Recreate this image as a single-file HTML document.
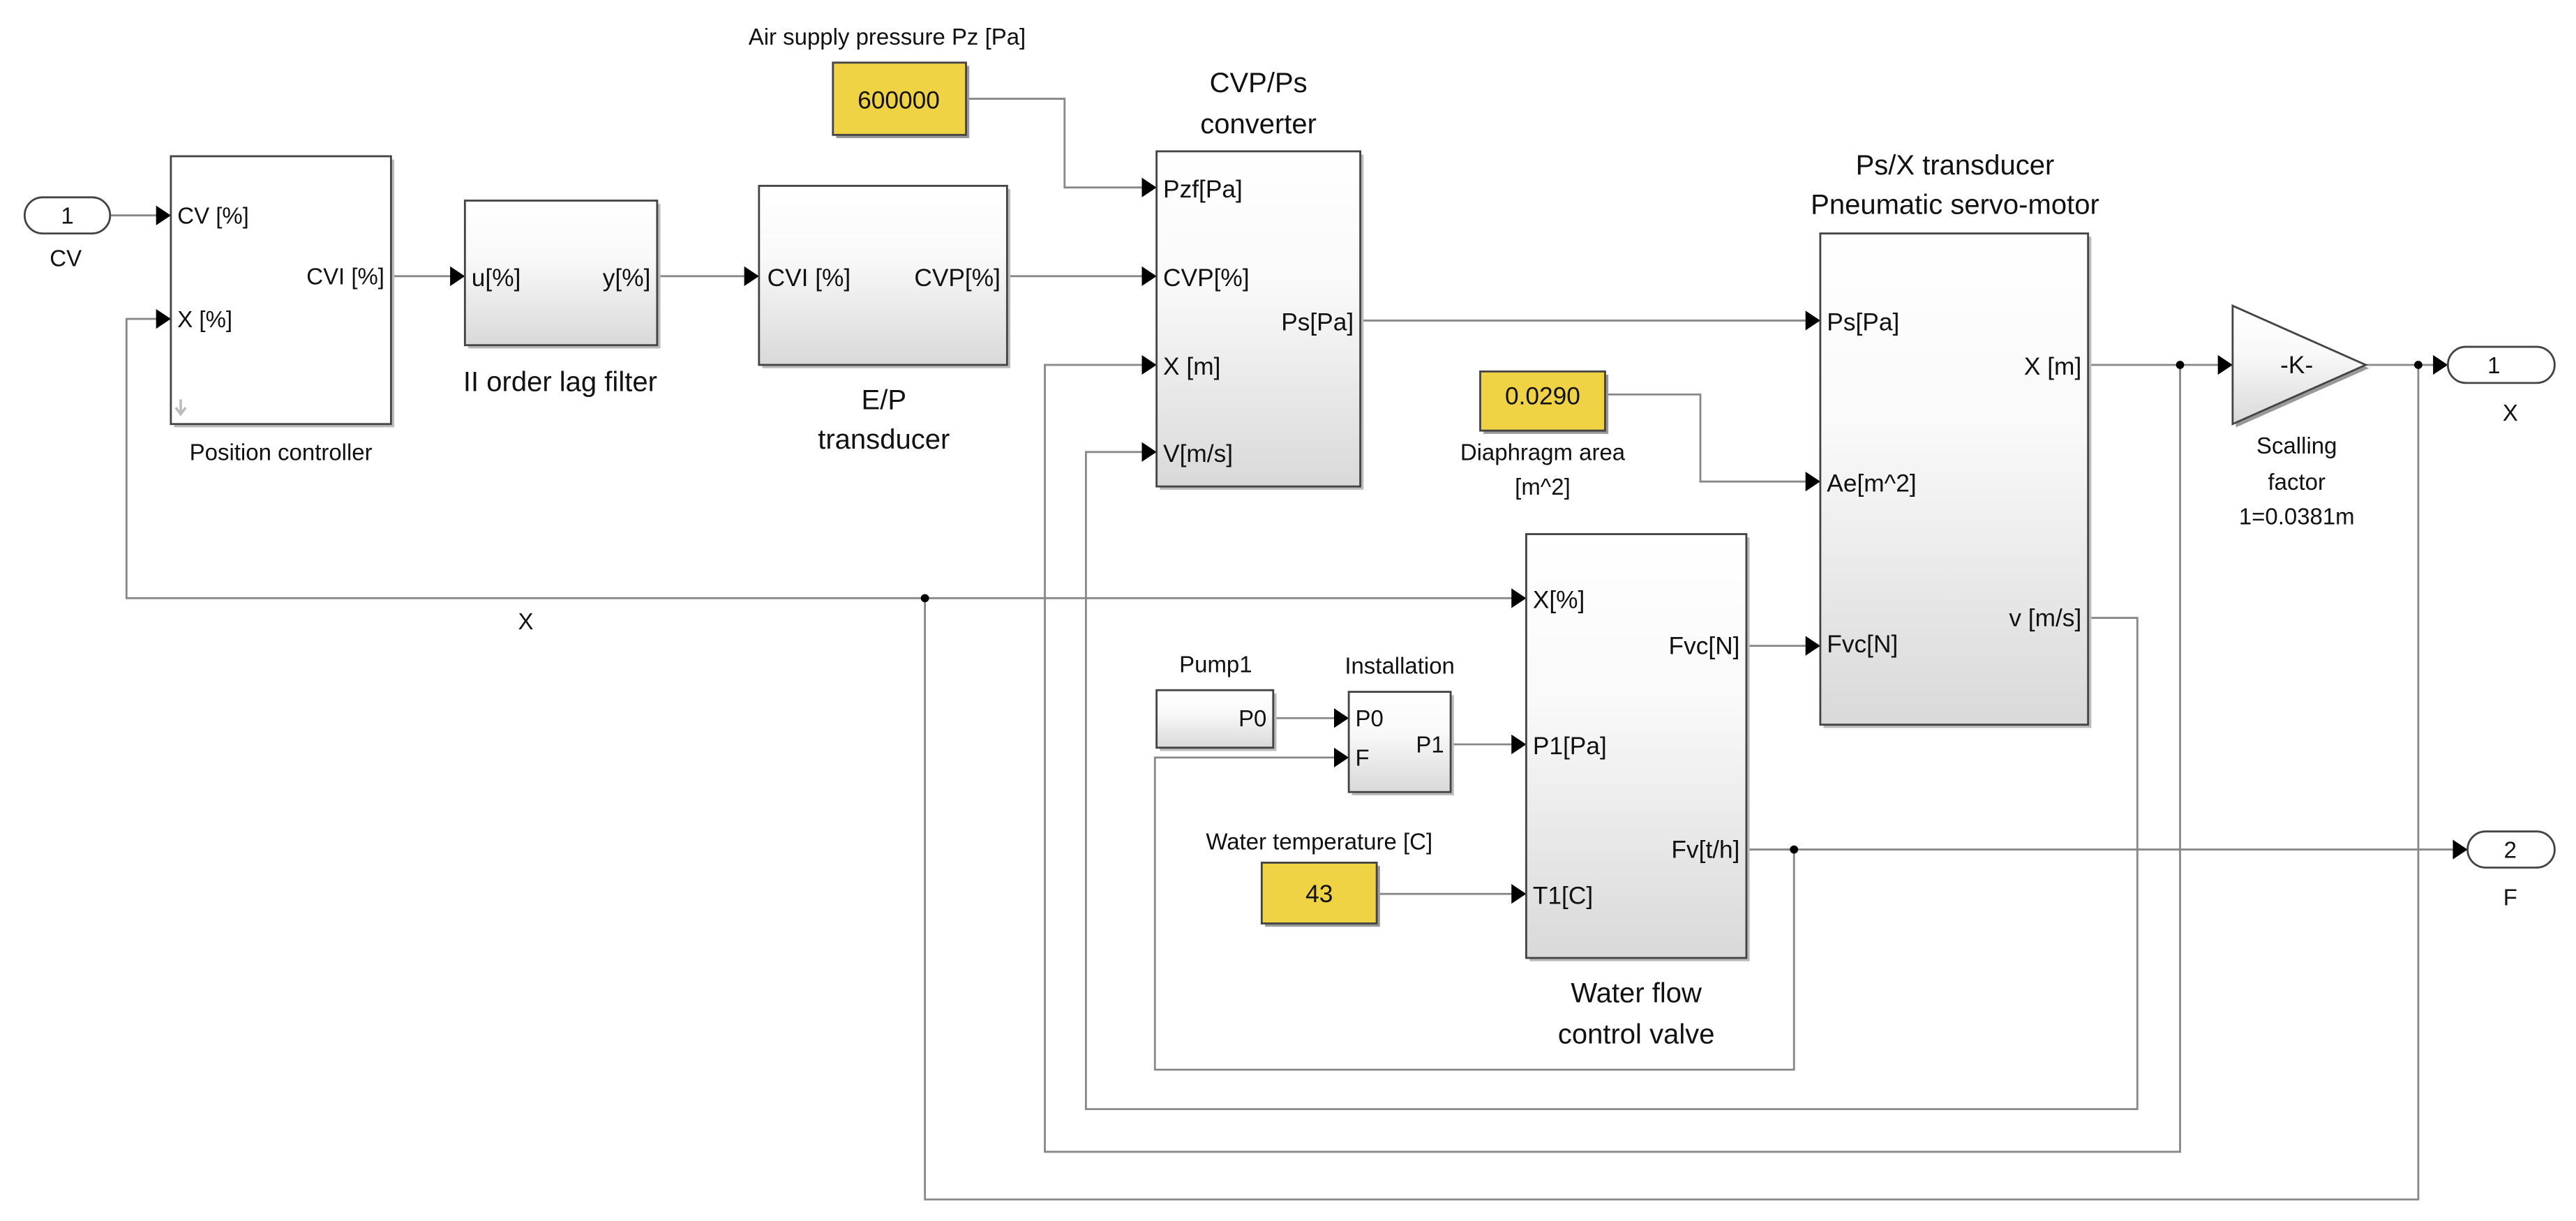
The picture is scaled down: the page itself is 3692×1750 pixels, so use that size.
<!DOCTYPE html>
<html><head><meta charset="utf-8"><style>html,body{margin:0;padding:0;background:#fff}svg{display:block}text{font-family:"Liberation Sans",Arial,sans-serif;fill:#111}</style></head>
<body>
<svg width="3692" height="1750" viewBox="0 0 1568 743" xmlns="http://www.w3.org/2000/svg">
<defs>
<linearGradient id="g" x1="0" y1="0" x2="0" y2="1"><stop offset="0" stop-color="#ffffff"/><stop offset="0.4" stop-color="#f9f9f9"/><stop offset="1" stop-color="#d9d9d9"/></linearGradient>
<marker id="a" markerWidth="10" markerHeight="12" refX="9" refY="6" orient="auto" markerUnits="userSpaceOnUse"><path d="M0,0 L9,6 L0,12 Z" fill="#000"/></marker>
</defs>
<rect width="1568" height="743" fill="#fff"/>
<g fill="none" stroke="#888" stroke-width="1.2">
<!-- main signals -->
<path d="M67,131 H104" marker-end="url(#a)"/>
<path d="M238,168 H283" marker-end="url(#a)"/>
<path d="M400,168 H462" marker-end="url(#a)"/>
<path d="M613,168 H704" marker-end="url(#a)"/>
<path d="M588,60 H648 V114 H704" marker-end="url(#a)"/>
<path d="M828,195 H1108" marker-end="url(#a)"/>
<path d="M977,240 H1035 V293 H1108" marker-end="url(#a)"/>
<path d="M1271,222 H1359" marker-end="url(#a)"/>
<path d="M1440,222 H1490" marker-end="url(#a)"/>
<path d="M1063,393 H1108" marker-end="url(#a)"/>
<path d="M775,437 H821" marker-end="url(#a)"/>
<path d="M883,453 H929" marker-end="url(#a)"/>
<path d="M838,544 H929" marker-end="url(#a)"/>
<path d="M1063,517 H1502" marker-end="url(#a)"/>
<!-- feedback loops -->
<path d="M1092,517 V651 H703 V461 H821" marker-end="url(#a)"/>
<path d="M1271,376 H1301 V675 H661 V275 H704" marker-end="url(#a)"/>
<path d="M1327,222 V701 H636 V222 H704" marker-end="url(#a)"/>
<path d="M1472,222 V730 H563 V364 H929" marker-end="url(#a)"/>
<path d="M563,364 H77 V194 H104" marker-end="url(#a)"/>
</g>
<g fill="#000"><circle cx="1327" cy="222" r="2.5"/><circle cx="1472" cy="222" r="2.5"/><circle cx="1092" cy="517" r="2.5"/><circle cx="563" cy="364" r="2.5"/></g>

<!-- blocks: shadow + body -->
<g stroke="#444" stroke-width="1.2">
<rect x="106" y="97" width="134" height="163" fill="#bbb" stroke="none"/>
<rect x="104" y="95" width="134" height="163" fill="#fff"/>
<rect x="285" y="124" width="117" height="88" fill="#bbb" stroke="none"/>
<rect x="283" y="122" width="117" height="88" fill="url(#g)"/>
<rect x="464" y="115" width="151" height="109" fill="#bbb" stroke="none"/>
<rect x="462" y="113" width="151" height="109" fill="url(#g)"/>
<rect x="706" y="94" width="124" height="204" fill="#bbb" stroke="none"/>
<rect x="704" y="92" width="124" height="204" fill="url(#g)"/>
<rect x="1110" y="144" width="163" height="299" fill="#bbb" stroke="none"/>
<rect x="1108" y="142" width="163" height="299" fill="url(#g)"/>
<rect x="931" y="327" width="134" height="258" fill="#bbb" stroke="none"/>
<rect x="929" y="325" width="134" height="258" fill="url(#g)"/>
<rect x="706" y="422" width="71" height="35" fill="#bbb" stroke="none"/>
<rect x="704" y="420" width="71" height="35" fill="url(#g)"/>
<rect x="823" y="423" width="62" height="61" fill="#bbb" stroke="none"/>
<rect x="821" y="421" width="62" height="61" fill="url(#g)"/>
<rect x="509" y="40" width="81" height="44" fill="#999" stroke="none"/>
<rect x="507" y="38" width="81" height="44" fill="#f0d245"/>
<rect x="903" y="228" width="76" height="36" fill="#999" stroke="none"/>
<rect x="901" y="226" width="76" height="36" fill="#f0d245"/>
<rect x="770" y="527" width="70" height="37" fill="#999" stroke="none"/>
<rect x="768" y="525" width="70" height="37" fill="#f0d245"/>
<path d="M1361,188 L1442,224 L1361,260 Z" fill="#999" stroke="none"/>
<path d="M1359,186 L1440,222 L1359,258 Z" fill="url(#g)"/>
<rect x="15" y="120" width="52" height="22" rx="11" fill="#fff"/>
<rect x="1490" y="211" width="65" height="22" rx="11" fill="#fff"/>
<rect x="1502" y="506" width="53" height="22" rx="11" fill="#fff"/>
</g>
<path d="M110,243 v8 M107,248 l3,4 l3,-4" stroke="#bbb" stroke-width="1.5" fill="none"/>

<g font-size="14">
<text x="41" y="136" text-anchor="middle">1</text>
<text x="40" y="162" text-anchor="middle">CV</text>
<text x="108" y="136">CV [%]</text>
<text x="108" y="199">X [%]</text>
<text x="234" y="173" text-anchor="end">CVI [%]</text>
<text x="171" y="280" text-anchor="middle">Position controller</text>
<text x="287" y="174" font-size="15">u[%]</text>
<text x="396" y="174" font-size="15" text-anchor="end">y[%]</text>
<text x="467" y="174" font-size="15">CVI [%]</text>
<text x="609" y="174" font-size="15" text-anchor="end">CVP[%]</text>
<text x="540" y="27" text-anchor="middle">Air supply pressure Pz [Pa]</text>
<text x="547" y="66" text-anchor="middle" font-size="15">600000</text>
<text x="708" y="120" font-size="15">Pzf[Pa]</text>
<text x="708" y="174" font-size="15">CVP[%]</text>
<text x="708" y="228" font-size="15">X [m]</text>
<text x="708" y="281" font-size="15">V[m/s]</text>
<text x="824" y="201" font-size="15" text-anchor="end">Ps[Pa]</text>
<text x="1112" y="201" font-size="15">Ps[Pa]</text>
<text x="1112" y="299" font-size="15">Ae[m^2]</text>
<text x="1112" y="397" font-size="15">Fvc[N]</text>
<text x="1267" y="228" font-size="15" text-anchor="end">X [m]</text>
<text x="1267" y="381" font-size="15" text-anchor="end">v [m/s]</text>
<text x="939" y="246" text-anchor="middle" font-size="15">0.0290</text>
<text x="939" y="280" text-anchor="middle">Diaphragm area</text>
<text x="939" y="301" text-anchor="middle">[m^2]</text>
<text x="1388" y="227" font-size="15">-K-</text>
<text x="1398" y="276" text-anchor="middle">Scalling</text>
<text x="1398" y="298" text-anchor="middle">factor</text>
<text x="1398" y="319" text-anchor="middle">1=0.0381m</text>
<text x="1518" y="227" text-anchor="middle">1</text>
<text x="1528" y="256" text-anchor="middle">X</text>
<text x="1528" y="522" text-anchor="middle">2</text>
<text x="1528" y="551" text-anchor="middle">F</text>
<text x="933" y="370" font-size="15">X[%]</text>
<text x="933" y="459" font-size="15">P1[Pa]</text>
<text x="933" y="550" font-size="15">T1[C]</text>
<text x="1059" y="398" font-size="15" text-anchor="end">Fvc[N]</text>
<text x="1059" y="522" font-size="15" text-anchor="end">Fv[t/h]</text>
<text x="740" y="409" text-anchor="middle">Pump1</text>
<text x="771" y="442" text-anchor="end">P0</text>
<text x="852" y="410" text-anchor="middle">Installation</text>
<text x="825" y="442">P0</text>
<text x="825" y="466">F</text>
<text x="879" y="458" text-anchor="end">P1</text>
<text x="803" y="517" text-anchor="middle">Water temperature [C]</text>
<text x="803" y="549" text-anchor="middle" font-size="15">43</text>
<text x="320" y="383" text-anchor="middle">X</text>
</g>
<g font-size="17" text-anchor="middle">
<text x="341" y="238">II order lag filter</text>
<text x="538" y="249">E/P</text>
<text x="538" y="273">transducer</text>
<text x="766" y="56">CVP/Ps</text>
<text x="766" y="81">converter</text>
<text x="1190" y="106">Ps/X transducer</text>
<text x="1190" y="130">Pneumatic servo-motor</text>
<text x="996" y="610">Water flow</text>
<text x="996" y="635">control valve</text>
</g>
</svg>
</body></html>
